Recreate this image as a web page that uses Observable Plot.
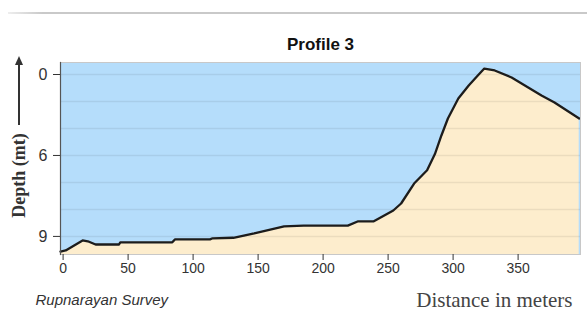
<!DOCTYPE html>
<html>
<head>
<meta charset="utf-8">
<script src="https://cdn.jsdelivr.net/npm/d3@7"></script>
<script src="https://cdn.jsdelivr.net/npm/@observablehq/plot@0.6"></script>
<style>
  html, body { margin: 0; padding: 0; background: #fff; }
  #wrap { position: relative; width: 587px; height: 321px; overflow: hidden; font-family: "Liberation Sans", Arial, sans-serif; }
  #topline { position: absolute; left: 8px; right: 0; top: 12px; height: 2px; background: linear-gradient(to right, #eee, #c9c9c9 6%, #c9c9c9); }
  #arrow { position: absolute; left: 18px; top: 63px; width: 1.6px; height: 62px; background: #333; }
  #arrowhead { position: absolute; left: 15px; top: 56px; width: 0; height: 0; border-left: 4px solid transparent; border-right: 4px solid transparent; border-bottom: 9px solid #333; }
  #chart { position: absolute; left: 0; top: 0; }
</style>
</head>
<body>
<div id="wrap">
  <div id="chart"></div>
  <div id="topline"></div>
  <div id="arrow"></div>
  <div id="arrowhead"></div>
</div>
<script>
// Distance along the profile (m) and depth (mt)
const distances = [-2, 2, 15, 19, 25, 43, 44, 84, 86, 113, 115, 131, 147, 170, 185, 219, 227, 239, 254, 260, 270, 280, 286, 291, 296, 304, 312, 319, 324, 332, 345, 368, 378, 397];
const depths    = [9.56, 9.52, 9.15, 9.18, 9.3, 9.3, 9.22, 9.22, 9.11, 9.11, 9.07, 9.05, 8.89, 8.63, 8.6, 8.6, 8.44, 8.44, 8.04, 7.78, 7.04, 6.55, 5.9, 4.52, 3.26, 1.78, 0.81, 0.07, -0.44, -0.3, 0.22, 1.56, 2.07, 3.26];

const xTicks = [0, 50, 100, 150, 200, 250, 300, 350];
const yTicks = [0, 6, 9];
const gridDepths = [0, 2, 4, 6, 7, 8, 9];
const depthRange = [-0.89, 9.67];
const xDomain = [-2, 398];

const title = "Profile 3";
const yLabel = "Depth (mt)";
const xLabel = "Distance in meters";
const source = "Rupnarayan Survey";

// The original axis is stretched piecewise: 0–6 and 6–9 take equal room.
const toAxis = d3.scaleLinear().domain([0, 6, 9]).range([0, 3, 6]).clamp(false);
const toAxisExt = d => d < 0 ? d / 2 : toAxis(d);
const fromAxis = d3.scaleLinear().domain([0, 3, 6]).range([0, 6, 9]);

const profile = distances.map((d, i) => ({dist: d, depth: depths[i], u: toAxisExt(depths[i])}));
const bottomU = toAxisExt(depthRange[1]);

const chart = Plot.plot({
  width: 587,
  height: 321,
  marginLeft: 60,
  marginRight: 7,
  marginTop: 62,
  marginBottom: 67,
  style: {fontFamily: "'Liberation Sans', Arial, sans-serif", background: "transparent"},
  x: {domain: xDomain},
  y: {domain: [toAxisExt(depthRange[0]), bottomU], reverse: true},
  marks: [
    Plot.frame({fill: "#b5ddfb"}),
    Plot.areaY(profile, {x: "dist", y1: "u", y2: () => bottomU, fill: "#fdedcd"}),
    Plot.ruleY(gridDepths.map(toAxisExt), {stroke: "#000", strokeOpacity: 0.07, strokeWidth: 1.5}),
    Plot.lineY(profile, {x: "dist", y: "u", stroke: "#1c1c1c", strokeWidth: 2.3}),
    Plot.frame({stroke: "#c8c8c8"}),
    Plot.frame({anchor: "left", stroke: "#555", strokeWidth: 1.2}),
    Plot.axisX({ticks: xTicks, tickSize: 6, tickPadding: 3, fontSize: 14, color: "#333", label: null}),
    Plot.axisY({ticks: yTicks.map(toAxisExt), tickFormat: u => String(Math.round(fromAxis(u))), tickSize: 7, tickPadding: 6, fontSize: 16, color: "#333", label: null}),
    Plot.text([title], {frameAnchor: "top", dy: -18, lineAnchor: "middle", fontSize: 17, fontWeight: "bold", fill: "#111"}),
    Plot.text([yLabel], {frameAnchor: "left", rotate: -90, textAnchor: "middle", lineAnchor: "middle", dx: -41, dy: 17, fontSize: 18, fontWeight: "bold", fontFamily: "'Liberation Serif', 'Times New Roman', serif", fill: "#333"}),
    Plot.text([source], {frameAnchor: "bottom-left", dx: -25, dy: 46, textAnchor: "start", lineAnchor: "middle", fontSize: 15, fontStyle: "italic", fill: "#333"}),
    Plot.text([xLabel], {frameAnchor: "bottom-right", dx: -8, dy: 46, textAnchor: "end", lineAnchor: "middle", fontSize: 21, fontFamily: "'Liberation Serif', 'Times New Roman', serif", fill: "#444", letterSpacing: "0.9px"})
  ]
});
document.getElementById("chart").appendChild(chart);
</script>
</body>
</html>
